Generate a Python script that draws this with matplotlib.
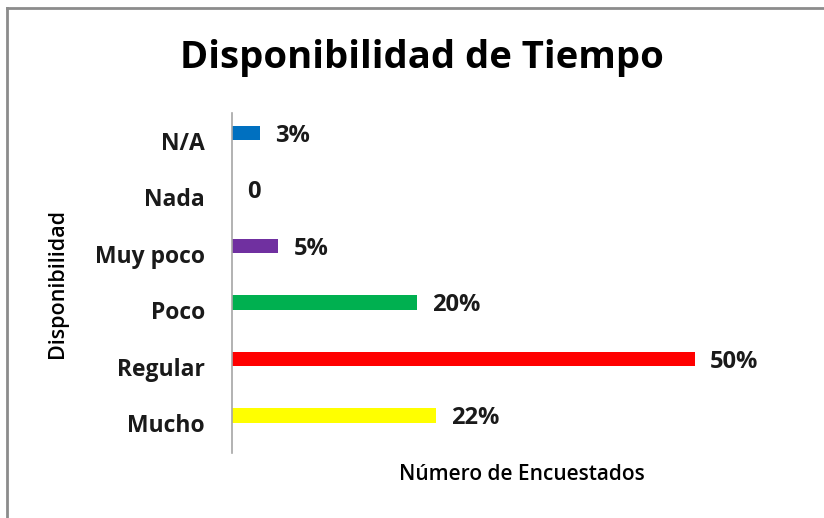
import matplotlib
matplotlib.use("Agg")
import matplotlib.pyplot as plt
import matplotlib.transforms as mtransforms
from matplotlib.lines import Line2D

categories = ["Mucho", "Regular", "Poco", "Muy poco", "Nada", "N/A"]
values = [22, 50, 20, 5, 0, 3]
labels = ["22%", "50%", "20%", "5%", "0", "3%"]
colors = ["#FFFF00", "#FF0000", "#00B050", "#7030A0", "#7F7F7F", "#0070C0"]

plt.rcParams['font.family'] = ['Open Sans', 'DejaVu Sans']

fig = plt.figure(figsize=(8.24, 5.18), dpi=100)
ax = fig.add_axes([232/824, 1-453/518, (811-232)/824, (453-113)/518])

ypos = list(range(len(categories)))
ax.barh(ypos, values, height=0.25, color=colors)
ax.set_xlim(0, 62.5)
ax.set_ylim(-0.664, 5.354)
ax.set_yticks(ypos)
ax.set_yticklabels(categories, fontsize=16.5, fontweight='bold', color='#1a1a1a')
ax.tick_params(axis='y', length=0, pad=19.4)
ax.set_xticks([])
for s in ['top', 'right', 'bottom']:
    ax.spines[s].set_visible(False)
ax.spines['left'].set_color('#a6a6a6')
ax.spines['left'].set_linewidth(1.2)

shift = mtransforms.ScaledTranslation(0, -8/100, fig.dpi_scale_trans)
for t in ax.get_yticklabels():
    t.set_transform(t.get_transform() + shift)

for y, v, lab in zip(ypos, values, labels):
    ax.annotate(lab, (v, y), xytext=(15, -3), textcoords='offset pixels',
                ha='left', va='center', fontsize=17, fontweight='bold', color='#1a1a1a')

ax.set_xlabel("Número de Encuestados", fontsize=15, fontweight='semibold')
ax.xaxis.set_label_coords(521.5/824, 1-475/518, transform=fig.transFigure)
ax.xaxis.label.set_va('center')
ax.set_ylabel("Disponibilidad", fontsize=15.5, fontweight='semibold')
ax.yaxis.set_label_coords(57/824, 1-284/518, transform=fig.transFigure)
ax.yaxis.label.set_va('center')

fig.text(422/824, 1-58/518, "Disponibilidad de Tiempo", ha='center', va='center',
         fontsize=27.5, fontweight='bold', color='black')

fig.add_artist(Line2D([7/824, 7/824], [0, 1-8/518], transform=fig.transFigure, color='#8c8c8c', lw=2))
fig.add_artist(Line2D([7/824, 1], [1-8/518, 1-8/518], transform=fig.transFigure, color='#8c8c8c', lw=2))

fig.savefig("out.png", dpi=100)
